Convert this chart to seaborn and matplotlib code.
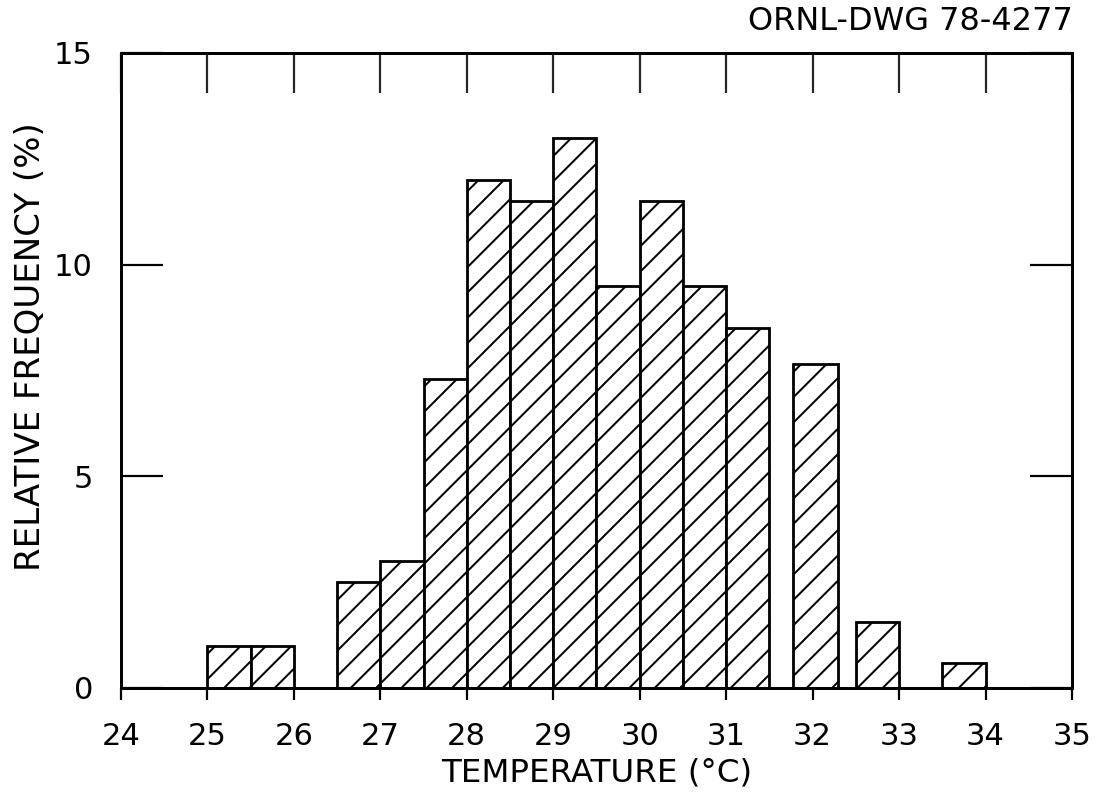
import matplotlib
matplotlib.use("Agg")
import matplotlib.pyplot as plt
import seaborn as sns
import numpy as np

# ---- data ----
bar_left = [25.0, 25.5, 26.5, 27.0, 27.5, 28.0, 28.5, 29.0, 29.5, 30.0, 30.5, 31.0, 31.77, 32.5, 33.5]
bar_right = [25.5, 26.0, 27.0, 27.5, 28.0, 28.5, 29.0, 29.5, 30.0, 30.5, 31.0, 31.5, 32.29, 33.0, 34.0]
rel_freq = [1.0, 1.0, 2.5, 3.0, 7.3, 12.0, 11.5, 13.0, 9.5, 11.5, 9.5, 8.5, 7.65, 1.55, 0.6]
x_ticks = [24, 25, 26, 27, 28, 29, 30, 31, 32, 33, 34, 35]
y_ticks = [0, 5, 10, 15]
x_label = "TEMPERATURE (°C)"
y_label = "RELATIVE FREQUENCY (%)"
drawing_id = "ORNL-DWG 78-4277"

# render resolution chosen so that the '/' hatch spacing matches the drawing
DPI = 76


def P(px):
    """pixels -> points at the chosen dpi"""
    return px * 72.0 / DPI


sns.set_theme(style="white")
plt.rcParams['font.family'] = ['DejaVu Sans']
plt.rcParams['hatch.linewidth'] = P(2.0)

edges = sorted(set(bar_left) | set(bar_right))
centers = [(l + r) / 2 for l, r in zip(bar_left, bar_right)]

fig = plt.figure(figsize=(1099 / DPI, 799 / DPI), dpi=DPI)
ax = fig.add_axes([0.110, 0.139, 0.8654, 0.7947])

sns.histplot(x=centers, weights=rel_freq, bins=edges, ax=ax,
             stat="count", element="bars", fill=True,
             color="white", edgecolor="black", linewidth=P(2.8),
             hatch="/", alpha=1.0, shrink=1.0)

ax.set_xlim(24, 35)
ax.set_ylim(0, 15)
ax.set_xticks(x_ticks)
ax.set_xticklabels([str(t) for t in x_ticks], fontsize=P(30.6))
ax.set_yticks(y_ticks)
ax.set_yticklabels([str(t) for t in y_ticks], fontsize=P(30.6))

for sp in ax.spines.values():
    sp.set_visible(True)
    sp.set_color("black")
    sp.set_linewidth(P(3.0))

ax.tick_params(axis='x', direction='out', length=P(12), width=P(2.2), pad=P(22),
               bottom=True, top=False, colors='black')
ax.tick_params(axis='y', direction='in', length=P(42), width=P(2.2), pad=P(28),
               left=True, right=True, colors='black')

top = ax.secondary_xaxis('top')
top.set_xticks(x_ticks)
top.tick_params(direction='in', length=P(40), width=P(2.2), labeltop=False)
top.spines['top'].set_visible(False)

ax.set_xlabel(x_label, fontsize=P(32.5), labelpad=P(7), color='black')
ax.set_ylabel(y_label, fontsize=P(34), color='black')
ax.yaxis.set_label_coords(-0.078, 0.537)
ax.grid(False)

fig.text(0.976, 0.973, drawing_id, ha='right', va='center', fontsize=P(32), color='black')

fig.savefig("out.png", dpi=DPI, facecolor="white")
